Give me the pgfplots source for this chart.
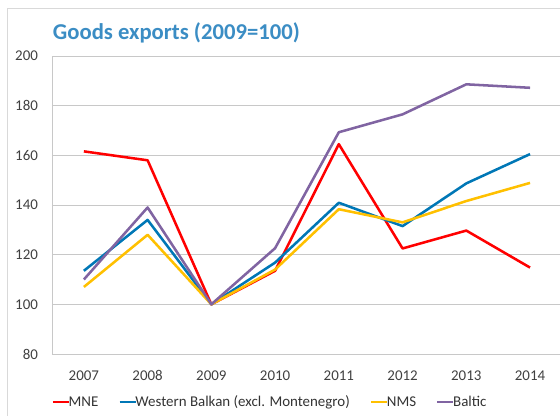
\documentclass[border=0pt]{standalone}
\usepackage{pgfplots}
\pgfplotsset{compat=1.18}
\usepackage{fontspec}
\setmainfont{Carlito}
\definecolor{cred}{HTML}{FF0000}
\definecolor{cblue}{HTML}{0077B6}
\definecolor{cyellow}{HTML}{FFC000}
\definecolor{cpurple}{HTML}{8064A2}
\definecolor{ctitle}{HTML}{3B8DC4}
\definecolor{cgrid}{HTML}{C8C8C8}
\begin{document}
\begin{tikzpicture}
\useasboundingbox (0,0) rectangle (420pt,-312pt);
\draw[color=cgrid!70, line width=0.6pt] (5.25pt,-316pt) -- (5.25pt,-6pt) -- (425pt,-6pt);
\node[anchor=west, text=ctitle, font=\fontsize{17}{19}\selectfont\bfseries, inner sep=0pt] at (39.5pt,-25pt) {Goods exports (2009=100)};
\begin{axis}[
  at={(39pt,-265.5pt)}, anchor=south west,
  scale only axis, width=381pt, height=223.5pt,
  xmin=-0.5, xmax=7.47, ymin=80, ymax=200,
  xtick={0,...,7}, xticklabels={2007,2008,2009,2010,2011,2012,2013,2014},
  ytick={80,100,...,200},
  ymajorgrids, grid style={cgrid, line width=0.7pt},
  axis lines*=left,
  x axis line style={draw=none},
  y axis line style={cgrid, line width=0.7pt, -},
  major tick length=0pt,
  tick label style={font=\fontsize{11.2}{13}\selectfont, text=black!75},
  /pgf/number format/assume math mode=true,
  yticklabel style={xshift=-7pt},
  xticklabel style={yshift=-9pt},
  clip=false,
  legend style={at={(0.43,-0.162)}, anchor=center, draw=none, fill=none, legend columns=-1,
    font=\fontsize{11.2}{13}\selectfont, text=black!80, /tikz/every even column/.append style={column sep=13pt}},
  legend image code/.code={\draw[#1, line width=1.8pt] (0pt,0pt) -- (12pt,0pt);},
  legend cell align=left,
  every axis plot/.append style={line width=1.9pt, line join=round},
]
\addplot[cred] coordinates {(0,161.6) (1,158) (2,100) (3,113.5) (4,164.5) (5,122.5) (6,129.7) (7,114.8)};
\addlegendentry{\hspace{-3pt}MNE}
\addplot[cblue] coordinates {(0,113.5) (1,134) (2,100) (3,116.8) (4,140.9) (5,131.5) (6,148.7) (7,160.5)};
\addlegendentry{\hspace{-3pt}Western Balkan (excl. Montenegro)}
\addplot[cyellow] coordinates {(0,107) (1,128) (2,100) (3,114) (4,138.3) (5,133) (6,141.6) (7,148.9)};
\addlegendentry{\hspace{-3pt}NMS}
\addplot[cpurple] coordinates {(0,110) (1,139) (2,100) (3,122.6) (4,169.3) (5,176.5) (6,188.6) (7,187.2)};
\addlegendentry{\hspace{-3pt}Baltic}
\end{axis}
\end{tikzpicture}
\end{document}
